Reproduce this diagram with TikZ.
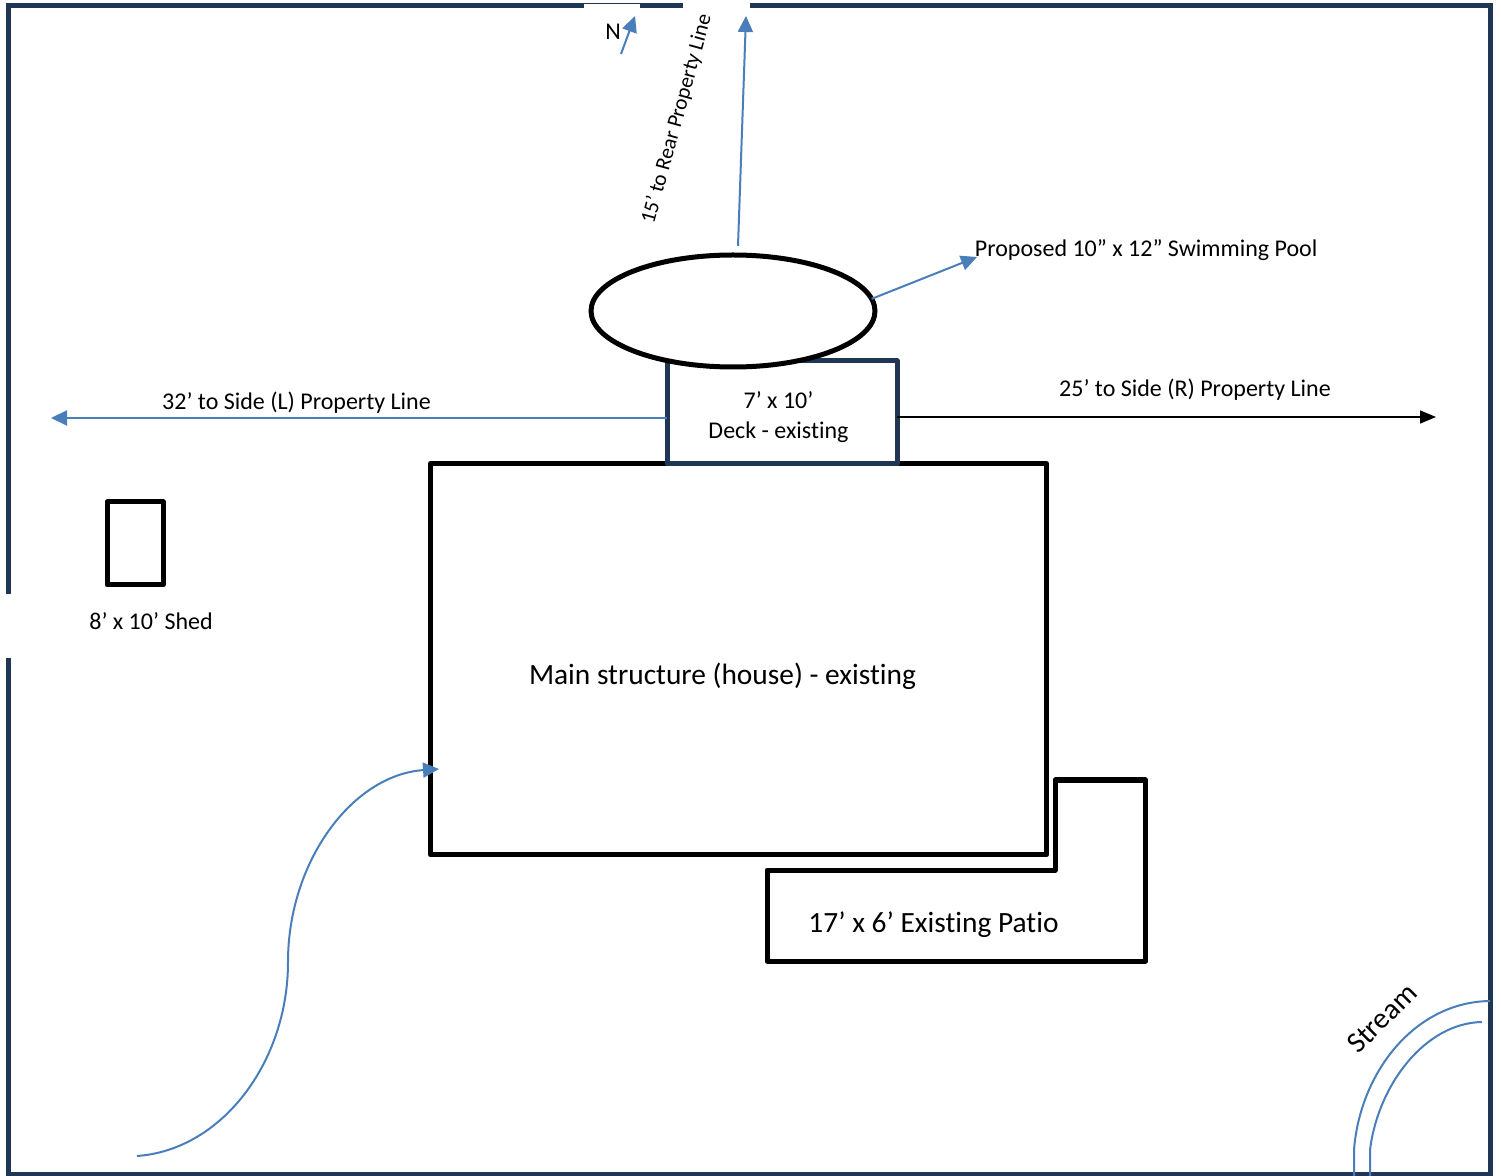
\documentclass[tikz,border=0pt]{standalone}
\usepackage{fontspec}
\setmainfont{Carlito}[Ligatures=NoCommon]
\usetikzlibrary{arrows.meta,shapes.geometric}
\definecolor{navy}{HTML}{1F3654}
\definecolor{bluel}{HTML}{4A7EBB}
\tikzset{
  px/.style={x=0.5pt,y=-0.5pt},
  edge/.style={navy,line width=2.5pt},
  heavy/.style={draw=black,line width=2.5pt,line join=round,rectangle,inner sep=0pt,outer sep=0pt},
  decknode/.style={draw=navy,fill=white,line width=2.5pt,line join=round,rectangle,inner sep=0pt,outer sep=0pt,minimum width=115pt,minimum height=51.5pt},
  poolnode/.style={draw=black,fill=white,line width=2.5pt,ellipse,inner sep=0pt,outer sep=0pt,minimum width=142pt,minimum height=56pt},
  label/.style={inner sep=0pt,font=\fontsize{12}{15}\selectfont,align=center},
  biglabel/.style={inner sep=0pt,font=\fontsize{14.7}{17}\selectfont},
  bluearrow/.style={bluel,line width=1pt,-{Triangle[length=8pt,width=7.5pt]}},
  blackarrow/.style={black,line width=0.75pt,-{Triangle[length=8pt,width=6.5pt]}},
  bluecurve/.style={bluel,line width=1pt},
}
\begin{document}
\begin{tikzpicture}[px]
\useasboundingbox[fill=white] (0,0) rectangle (1501,1176);
% property border
\draw[edge,line cap=butt] (683,5.5) -- (8,5.5) -- (8,594);
\draw[edge] (8,658) -- (8,1174) -- (1490,1174) -- (1490,5.5) -- (750,5.5);
\fill[white] (584,4.5) rectangle (640,56);
% structures
\node[heavy,minimum width=308pt,minimum height=195.5pt] (house) at (738.5,659.25) {};
\node[decknode] (deck) at (782,412.5) {};
\node[poolnode] (pool) at (733,311) {};
\node[heavy,minimum width=28pt,minimum height=41.5pt] (shed) at (135,543.5) {};
\draw[black,line width=2.5pt,line join=round] (1055,855) -- (1055,780) -- (1145.5,780) -- (1145.5,961) -- (767,961) -- (767,870) -- (1055,870) -- cycle;
% free ends
\coordinate (leftEnd) at (51,418);
\coordinate (rightEnd) at (1436,417);
\coordinate (rearStart) at (738,246);
\coordinate (rearEnd) at (746,16);
\coordinate (poolEnd) at (977,257);
\coordinate (northStart) at (621,54);
\coordinate (northEnd) at (635,16);
\coordinate (walkStart) at (137,1156);
\coordinate (walkEnd) at (439,769);
% connectors
\draw[bluearrow] (deck.west |- leftEnd) -- (leftEnd);
\draw[blackarrow] (deck.east |- rightEnd) -- (rightEnd);
\draw[bluearrow] (rearStart) -- (rearEnd);
\draw[bluearrow] (pool.5.4) -- (poolEnd);
\draw[bluearrow] (northStart) -- (northEnd);
\draw[bluearrow] (walkStart) .. controls (222,1150) and (288,1062) .. (288,962) .. controls (288,862) and (352,775) .. (walkEnd);
\draw[bluecurve] (1354,1176) -- (1354,1150) .. controls (1360,1072) and (1415,1002) .. (1490,1001);
\draw[bluecurve] (1370,1176) -- (1370,1150) .. controls (1378,1085) and (1425,1023) .. (1482,1022);
% labels
\node[label] (northLbl) at (613,32) {N};
\node[label,font=\fontsize{10.7}{13}\selectfont,rotate=74.6] (rearLbl) at (677,119) {15’ to Rear Property Line};
\node[label,anchor=west] (poolLbl) at (974.5,250.5) {Proposed 10” x 12” Swimming Pool};
\node[label] (leftLbl) at (296.5,403) {32’ to Side (L) Property Line};
\node[label] (rightLbl) at (1195,390) {25’ to Side (R) Property Line};
\node[label] (deckLbl) at (778.5,417) {7’ x 10’\\Deck - existing};
\node[label] (shedLbl) at (151,621) {8’ x 10’ Shed};
\node[biglabel] (houseLbl) at (722.5,676.5) {Main structure (house) - existing};
\node[biglabel] (patioLbl) at (933.5,925) {17’ x 6’ Existing Patio};
\node[biglabel,rotate=45] (streamLbl) at (1382,1018) {Stream};
\end{tikzpicture}
\end{document}
